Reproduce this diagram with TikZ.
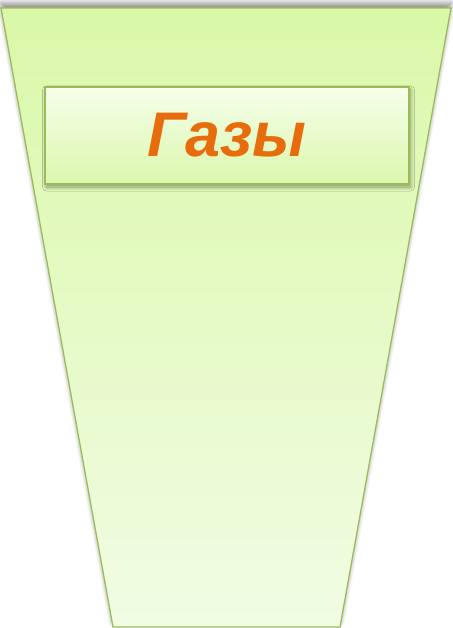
\documentclass[tikz,border=0pt]{standalone}
\usepackage{fontspec}
\setmainfont{Liberation Sans}
\usetikzlibrary{shadows.blur}
\definecolor{olivebd}{RGB}{155,187,89}
\definecolor{greentop}{RGB}{218,248,168}
\definecolor{greenbot}{RGB}{241,252,228}
\definecolor{boxtop}{RGB}{246,255,236}
\definecolor{boxbot}{RGB}{219,247,172}
\definecolor{txtorange}{RGB}{230,108,12}
\tikzset{
  trap/.style={draw=olivebd, line width=1.3pt, top color=greentop, bottom color=greenbot,
    blur shadow={shadow xshift=0pt, shadow yshift=5pt, shadow blur radius=5pt, shadow blur steps=10, shadow opacity=45}},
  titlebox/.style={draw=olivebd, line width=1.3pt, top color=boxtop, bottom color=boxbot,
    minimum width=364pt, minimum height=97pt, inner sep=0pt,
    blur shadow={shadow xshift=1.5pt, shadow yshift=-3pt, shadow blur radius=4pt, shadow blur steps=10, shadow opacity=40}},
  titletext/.style={text=txtorange, font=\fontsize{63}{70}\selectfont\bfseries\itshape}
}
\begin{document}
\begin{tikzpicture}[x=1pt,y=-1pt]
\useasboundingbox (0,0) rectangle (452,628);
\path[trap] (1,8) -- (451,8) -- (340,627) -- (113,627) -- cycle;
\node[titlebox] (box) at (227,135.5) {};
\node[titletext] (title) at (227,135) {Газы};
\end{tikzpicture}
\end{document}
